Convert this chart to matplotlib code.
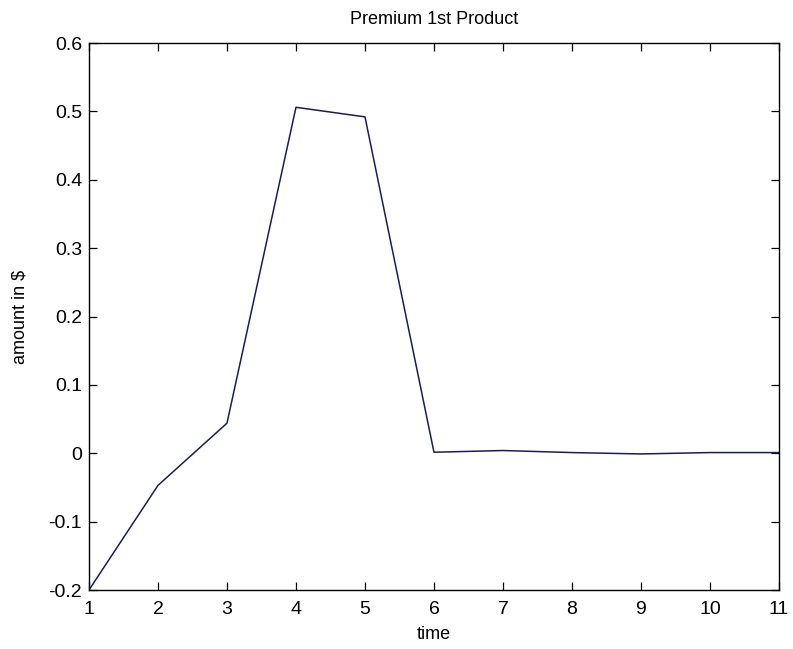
import matplotlib
matplotlib.use("Agg")
import matplotlib.pyplot as plt
import numpy as np

time = np.arange(1, 12)
premium = [-0.2, -0.047, 0.044, 0.506, 0.492, 0.0015, 0.004, 0.001, -0.001, 0.001, 0.001]
yticks = [-0.2, -0.1, 0, 0.1, 0.2, 0.3, 0.4, 0.5, 0.6]
ytick_labels = ["-0.2", "-0.1", "0", "0.1", "0.2", "0.3", "0.4", "0.5", "0.6"]

plt.rcParams['font.family'] = ['Liberation Sans', 'DejaVu Sans']
plt.rcParams['font.size'] = 14

fig = plt.figure(figsize=(7.93, 6.49), dpi=100)
ax = fig.add_axes([0.1122, 0.0909, 0.8701, 0.8428])
ax.plot(time, premium, color='#1c1c5a', lw=1.1)

ax.set_xlim(1, 11)
ax.set_ylim(-0.2, 0.6)
ax.set_xticks(time)
ax.set_yticks(yticks)
ax.set_yticklabels(ytick_labels)
ax.tick_params(direction='in', top=True, right=True, length=6, width=0.9, labelsize=14)
ax.tick_params(axis='x', pad=8)
ax.tick_params(axis='y', pad=5)
for s in ax.spines.values():
    s.set_linewidth(1.0)

ax.set_title('Premium 1st Product', fontsize=13, pad=14)
ax.set_xlabel('time', fontsize=13, labelpad=6)
ax.set_ylabel('amount in $', fontsize=13, labelpad=14)

fig.savefig('out.png', dpi=100)
